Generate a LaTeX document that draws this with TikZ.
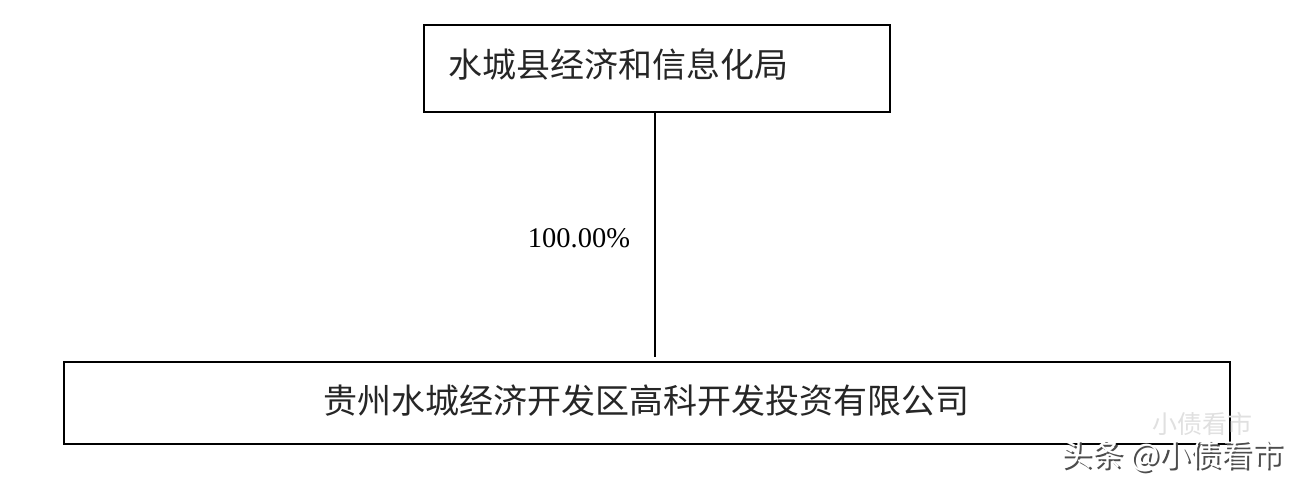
\documentclass[tikz,border=0pt]{standalone}
\usepackage{fontspec}
\newfontfamily\cjk{Noto Sans CJK SC}
\newfontfamily\serifnum{Liberation Serif}
\begin{document}
\begin{tikzpicture}[x=1pt,y=1pt,
  orgbox/.style={draw=black, line width=2pt, inner sep=0pt},
  conn/.style={draw=black, line width=2pt},
  boxtext/.style={font=\cjk\fontsize{34}{40}\selectfont, text=black!85, inner sep=0pt, anchor=west},
  pct/.style={font=\serifnum\fontsize{28.5}{32}\selectfont, inner sep=0pt},
  wm/.style={font=\cjk\fontsize{31}{36}\selectfont, inner sep=0pt, anchor=west}
]
\useasboundingbox[fill=white] (0,0) rectangle (1316,-490);
% top box
\node[orgbox, minimum width=466pt, minimum height=87pt, anchor=north west] (top) at (423,-24) {};
\node[boxtext] (toptext) at (448,-64) {水城县经济和信息化局};
% bottom box
\node[orgbox, minimum width=1166pt, minimum height=82pt, anchor=north west] (bot) at (63,-361) {};
\node[boxtext, anchor=center] (bottext) at (646,-401) {贵州水城经济开发区高科开发投资有限公司};
% connector
\coordinate (lineend) at (655,-357);
\draw[conn] (top.south -| lineend) -- (lineend);
\node[pct] (label) at (579,-238) {100.00\%};
% watermark
\node[wm, text=black!12, font=\cjk\fontsize{25}{28}\selectfont] (ghost) at (1152,-424) {小债看市};
\node[wm, text=black!70] (wmshadow) at (1063,-458) {头条 @小债看市};
\node[wm, text=white] (wmtext) at (1061.5,-456.5) {头条 @小债看市};
\end{tikzpicture}
\end{document}
